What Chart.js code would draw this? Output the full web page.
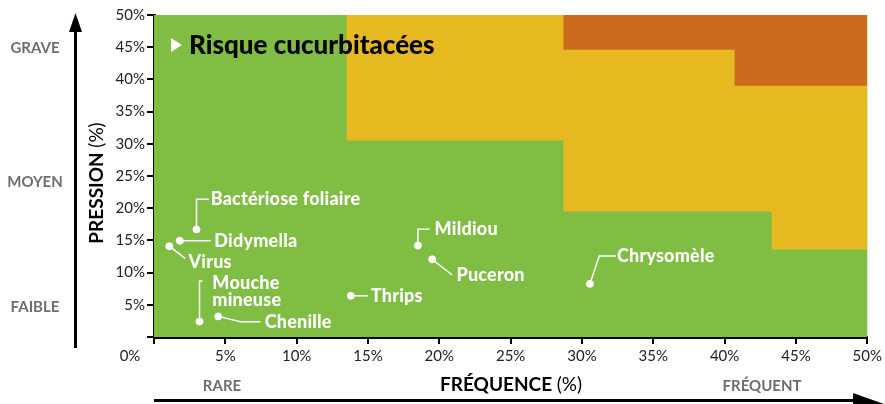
<!DOCTYPE html>
<html lang="fr">
<head>
  <meta charset="UTF-8" />
  <title>Risque cucurbitacées</title>
  <script src="https://cdn.jsdelivr.net/npm/chart.js"></script>
  <style>
    body {
      margin: 0;
      background: #fff;
    }
    #wrap {
      width: 885px;
      height: 404px;
    }
  </style>
</head>
<body>
  <div id="wrap"><canvas id="riskChart" width="885" height="404"></canvas></div>

  <script>
    // bioagresseurs : fréquence (%) / pression (%)
    const pests = ['Bactériose foliaire', 'Didymella', 'Virus', 'Mouche\nmineuse', 'Chenille', 'Thrips', 'Mildiou', 'Puceron', 'Chrysomèle'];
    const frequence = [2.98, 1.81, 1.07, 3.19, 4.5, 13.8, 18.5, 19.5, 30.56];
    const pression = [16.7, 14.95, 14.1, 2.4, 3.2, 6.4, 14.2, 12.06, 8.25];

    // label anchors and leader waypoints, in axis units
    const labelX = [3.97, 4.23, 2.42, 4.09, 7.76, 15.2, 19.67, 21.2, 32.45];
    const labelY = [21.4, 14.95, 11.69, 8.43, 2.28, 6.4, 16.77, 9.63, 12.58];
    const leaderX = [[2.98, 3.84], [3.98], [2.18], [3.19, 3.4], [6.07, 7.46], [14.99], [18.5, 19.32], [20.9], [31.21, 32.38]];
    const leaderY = [[21.4, 21.4], [14.95], [12.2], [8.7, 8.7], [2.38, 2.38], [6.4], [16.72, 16.72], [9.63], [12.58, 12.58]];

    // risk zones : lower limit of each zone (step starts at x)
    const moyenX = [0, 13.5, 28.7, 43.3, 50];
    const moyenY = [50, 30.5, 19.5, 13.6, 13.6];
    const graveX = [0, 28.7, 40.7, 50];
    const graveY = [50, 44.6, 39.0, 39.0];

    const tickValues = [0, 5, 10, 15, 20, 25, 30, 35, 40, 45, 50];
    const levels = ['GRAVE', 'MOYEN', 'FAIBLE'];
    const levelY = [44.9, 24.0, 4.6];

    const GREEN = '#7fbd43';
    const YELLOW = '#e6b920';
    const ORANGE = '#cc6b1d';
    const GREY = '#6d6e70';

    const toXY = (xs, ys) => xs.map((x, i) => ({ x: x, y: ys[i] }));

    const overlay = {
      id: 'overlay',
      beforeDatasetsDraw(chart) {
        const { ctx, chartArea: a } = chart;
        ctx.save();
        ctx.fillStyle = GREEN;
        ctx.fillRect(a.left, a.top, a.right - a.left, a.bottom - a.top);
        ctx.restore();
      },
      afterDatasetsDraw(chart) {
        const { ctx, chartArea: a } = chart;
        const xs = chart.scales.x, ys = chart.scales.y;
        ctx.save();

        // leaders
        ctx.strokeStyle = '#fff';
        ctx.lineWidth = 1.5;
        pests.forEach((p, i) => {
          ctx.beginPath();
          ctx.moveTo(xs.getPixelForValue(frequence[i]), ys.getPixelForValue(pression[i]));
          leaderX[i].forEach((lx, j) => {
            ctx.lineTo(xs.getPixelForValue(lx), ys.getPixelForValue(leaderY[i][j]));
          });
          ctx.stroke();
        });

        // pest labels
        ctx.fillStyle = '#fff';
        ctx.font = '900 18px Lato';
        ctx.letterSpacing = '0.2px';
        ctx.textAlign = 'left';
        ctx.textBaseline = 'middle';
        pests.forEach((p, i) => {
          const x = xs.getPixelForValue(labelX[i]);
          const y = ys.getPixelForValue(labelY[i]);
          p.split('\n').forEach((line, k) => ctx.fillText(line, x, y + k * 17.5));
        });
        ctx.letterSpacing = '0px';

        // title
        const tx = a.left + 17, ty = a.top + 30;
        ctx.beginPath();
        ctx.moveTo(tx, ty - 7);
        ctx.lineTo(tx + 11, ty);
        ctx.lineTo(tx, ty + 7);
        ctx.closePath();
        ctx.fill();
        ctx.fillStyle = '#000';
        ctx.font = '900 26px Lato';
        ctx.textBaseline = 'alphabetic';
        ctx.fillText('Risque cucurbitacées', tx + 18, ty + 9);
        ctx.restore();
      },
      afterDraw(chart) {
        const { ctx, chartArea: a } = chart;
        const xs = chart.scales.x, ys = chart.scales.y;
        ctx.save();

        // corner 0%
        ctx.fillStyle = '#222';
        ctx.font = '15px Lato';
        ctx.textAlign = 'center';
        ctx.textBaseline = 'middle';
        ctx.fillText('0%', xs.getPixelForValue(0) - 24, a.bottom + 19);

        // levels
        ctx.fillStyle = GREY;
        ctx.font = 'bold 15px Lato';
        levels.forEach((l, i) => ctx.fillText(l, 35, ys.getPixelForValue(levelY[i])));

        // x hints
        ctx.fillText('RARE', 222, 386);
        ctx.fillText('FRÉQUENT', 762, 386);

        // x title
        ctx.fillStyle = '#000';
        ctx.textAlign = 'left';
        ctx.font = 'bold 19px Lato';
        const w1 = ctx.measureText('FRÉQUENCE ').width;
        ctx.font = '19px Lato';
        const w2 = ctx.measureText('(%)').width;
        let sx = 511 - (w1 + w2) / 2;
        ctx.font = 'bold 19px Lato';
        ctx.fillText('FRÉQUENCE ', sx, 385);
        ctx.font = '19px Lato';
        ctx.fillText('(%)', sx + w1, 385);

        // y title
        ctx.save();
        ctx.translate(97, 183);
        ctx.rotate(-Math.PI / 2);
        ctx.font = 'bold 19px Lato';
        const v1 = ctx.measureText('PRESSION ').width;
        ctx.font = '19px Lato';
        const v2 = ctx.measureText('(%)').width;
        sx = -(v1 + v2) / 2;
        ctx.font = 'bold 19px Lato';
        ctx.fillText('PRESSION ', sx, 0);
        ctx.font = '19px Lato';
        ctx.fillText('(%)', sx + v1, 0);
        ctx.restore();

        // arrows
        ctx.strokeStyle = '#000';
        ctx.fillStyle = '#000';
        ctx.lineWidth = 3;
        ctx.beginPath();
        ctx.moveTo(75.5, 348);
        ctx.lineTo(75.5, 28);
        ctx.stroke();
        ctx.beginPath();
        ctx.moveTo(75.5, 13);
        ctx.lineTo(82, 32);
        ctx.lineTo(69, 32);
        ctx.closePath();
        ctx.fill();

        ctx.beginPath();
        ctx.moveTo(a.left, 400.5);
        ctx.lineTo(860, 400.5);
        ctx.stroke();
        ctx.beginPath();
        ctx.moveTo(884, 404);
        ctx.lineTo(853, 393);
        ctx.lineTo(853, 408);
        ctx.closePath();
        ctx.fill();
        ctx.restore();
      }
    };

    const chart = new Chart(document.getElementById('riskChart').getContext('2d'), {
      type: 'scatter',
      data: {
        datasets: [
          {
            label: 'Bioagresseurs',
            data: toXY(frequence, pression),
            backgroundColor: '#fff',
            borderColor: '#fff',
            pointRadius: 3.5,
            order: 0
          },
          {
            type: 'line',
            label: 'Grave',
            data: toXY(graveX, graveY),
            stepped: true,
            borderWidth: 0,
            pointRadius: 0,
            backgroundColor: ORANGE,
            fill: 'end',
            order: 1
          },
          {
            type: 'line',
            label: 'Moyen',
            data: toXY(moyenX, moyenY),
            stepped: true,
            borderWidth: 0,
            pointRadius: 0,
            backgroundColor: YELLOW,
            fill: 'end',
            order: 2
          }
        ]
      },
      options: {
        responsive: false,
        animation: false,
        layout: { padding: { top: 15, right: 15, left: 0, bottom: 0 } },
        plugins: {
          legend: { display: false },
          tooltip: { enabled: false }
        },
        scales: {
          x: {
            type: 'linear',
            min: 0,
            max: 50,
            afterFit: s => { s.height = 67; },
            afterBuildTicks: s => { s.ticks = tickValues.map(v => ({ value: v })); },
            border: { color: '#000', width: 3 },
            grid: { drawOnChartArea: false, color: '#000', lineWidth: 2, tickLength: 7 },
            ticks: {
              color: '#222',
              font: { family: 'Lato', size: 15 },
              padding: 3,
              maxRotation: 0,
              callback: v => v === 0 ? '' : v + '%'
            }
          },
          y: {
            type: 'linear',
            min: 0,
            max: 50,
            afterFit: s => { s.width = 154; },
            afterBuildTicks: s => { s.ticks = tickValues.map(v => ({ value: v })); },
            border: { color: '#000', width: 3 },
            grid: { drawOnChartArea: false, color: '#000', lineWidth: 2, tickLength: 7 },
            ticks: {
              color: '#222',
              font: { family: 'Lato', size: 15 },
              padding: 2,
              callback: v => v === 0 ? '' : v + '%'
            }
          }
        }
      },
      plugins: [overlay]
    });
  </script>
</body>
</html>
